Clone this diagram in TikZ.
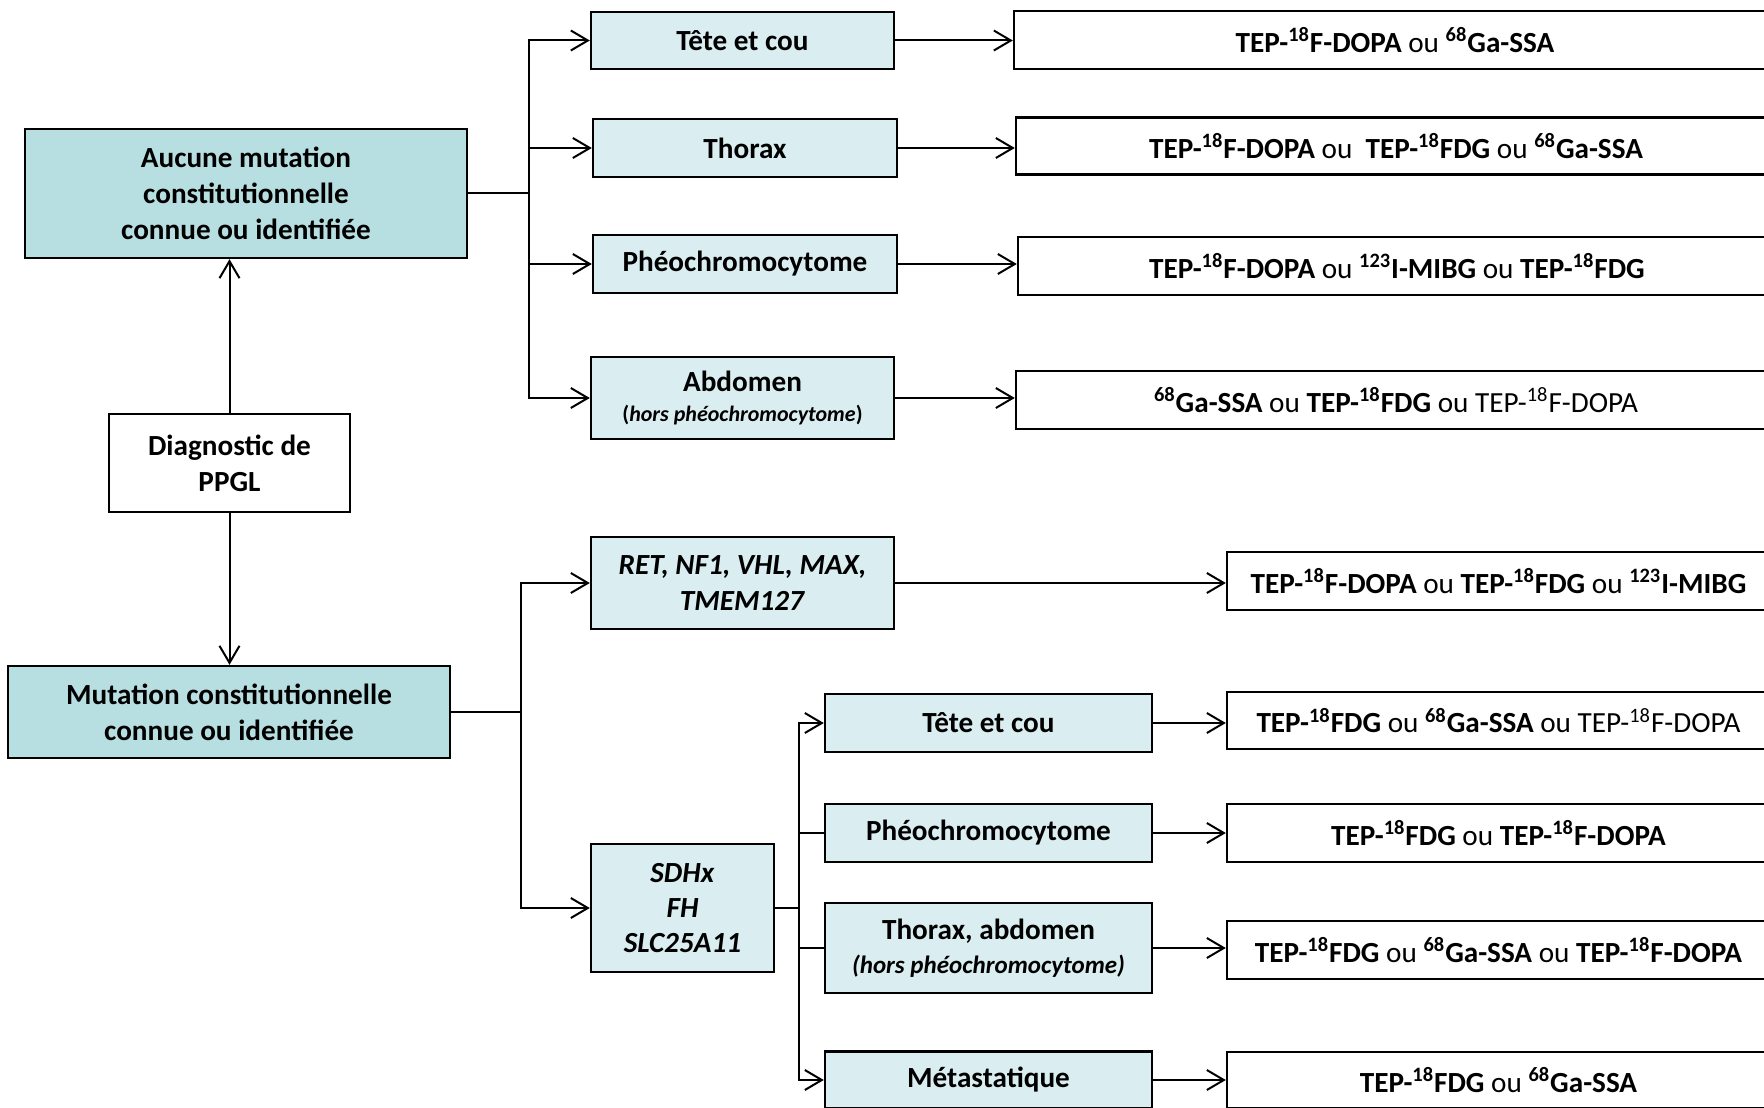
\documentclass[tikz,border=0pt]{standalone}
\usepackage{fontspec}
\setmainfont{Carlito}
\usetikzlibrary{arrows.meta}
\definecolor{tealdark}{RGB}{183,222,225}
\definecolor{teallight}{RGB}{218,238,242}
\newcommand{\iso}[1]{\textsuperscript{#1}}
\newcommand{\ou}{\textmd{ou}}

\begin{document}
\begin{tikzpicture}[x=0.5pt,y=-0.5pt,font=\fontsize{14.6}{18}\selectfont\bfseries,
  box/.style={draw,line width=1.2pt,align=center,inner sep=0pt},
  mainbox/.style={box,fill=tealdark},
  sitebox/.style={box,fill=teallight},
  resbox/.style={box,fill=white},
  link/.style={line width=1pt},
  arr/.style={line width=1pt,-{Straight Barb[length=8.5pt,width=10pt]}}]
\useasboundingbox (0,0) rectangle (1764,1107);
\clip (0,0) rectangle (1764,1107);

\node[mainbox,minimum width=221pt,minimum height=64.5pt] (aucune) at (246,193.5) {Aucune mutation\\constitutionnelle\\connue ou identifiée};
\node[resbox,minimum width=120.5pt,minimum height=49pt] (diag) at (229.5,463) {Diagnostic de\\PPGL};
\node[mainbox,minimum width=221pt,minimum height=46pt] (mutation) at (229,712) {Mutation constitutionnelle\\connue ou identifiée};

\node[sitebox,minimum width=151.5pt,minimum height=28.5pt] (tete1) at (742.5,40.5) {Tête et cou};
\node[sitebox,minimum width=152pt,minimum height=29pt] (thorax1) at (745,148) {Thorax};
\node[sitebox,minimum width=152pt,minimum height=29pt] (pheo1) at (745,264) {Phéochromocytome};
\node[sitebox,minimum width=151.5pt,minimum height=41pt] (abdo1) at (742.5,398) {Abdomen\\[-3pt]{\fontsize{11}{15}\selectfont(\textit{hors phéochromocytome})}};

\node[resbox,minimum width=381pt,minimum height=29pt] (res1) at (1395,40) {TEP-\iso{18}F-DOPA \ou{} \iso{68}Ga-SSA};
\node[resbox,minimum width=380pt,minimum height=28.5pt] (res2) at (1396,146) {TEP-\iso{18}F-DOPA \ou{}\ \ TEP-\iso{18}FDG \ou{} \iso{68}Ga-SSA};
\node[resbox,minimum width=379pt,minimum height=29pt] (res3) at (1397,266) {TEP-\iso{18}F-DOPA \ou{} \iso{123}I-MIBG \ou{} TEP-\iso{18}FDG};
\node[resbox,minimum width=380pt,minimum height=29pt] (res4) at (1396,400) {\iso{68}Ga-SSA \ou{} TEP-\iso{18}FDG \ou{} \textmd{TEP-\iso{18}F-DOPA}};

\node[sitebox,minimum width=151.5pt,minimum height=46pt] (ret) at (742.5,583) {\textit{RET, NF1, VHL, MAX,}\\\textit{TMEM127}};
\node[resbox,minimum width=271.5pt,minimum height=29pt] (resret) at (1498.5,581) {TEP-\iso{18}F-DOPA \ou{} TEP-\iso{18}FDG \ou{} \iso{123}I-MIBG};
\node[sitebox,minimum width=91.5pt,minimum height=64pt] (sdh) at (682.5,908) {\textit{SDHx}\\[-0.5pt]\textit{FH}\\[-0.5pt]\textit{SLC25A11}};

\node[sitebox,minimum width=163.5pt,minimum height=29pt] (tete2) at (988.5,723) {Tête et cou};
\node[sitebox,minimum width=163.5pt,minimum height=29pt] (pheo2) at (988.5,833) {Phéochromocytome};
\node[sitebox,minimum width=163.5pt,minimum height=45pt] (thorab) at (988.5,948) {Thorax, abdomen\\[-1pt]{\fontsize{12.5}{16}\selectfont\textit{(hors phéochromocytome)}}};
\node[sitebox,minimum width=163.5pt,minimum height=28.5pt] (meta) at (988.5,1080) {Métastatique};

\node[resbox,minimum width=271.5pt,minimum height=28.5pt] (rtete2) at (1498.5,720.5) {TEP-\iso{18}FDG \ou{} \iso{68}Ga-SSA \ou{} \textmd{TEP-\iso{18}F-DOPA}};
\node[resbox,minimum width=271.5pt,minimum height=29pt] (rpheo2) at (1498.5,833) {TEP-\iso{18}FDG \ou{} TEP-\iso{18}F-DOPA};
\node[resbox,minimum width=271.5pt,minimum height=29pt] (rthor) at (1498.5,950) {TEP-\iso{18}FDG \ou{} \iso{68}Ga-SSA \ou{} TEP-\iso{18}F-DOPA};
\node[resbox,minimum width=271.5pt,minimum height=28pt] (rmeta) at (1498.5,1080) {TEP-\iso{18}FDG \ou{} \iso{68}Ga-SSA};

\coordinate (b1) at (529,193.5);
\coordinate (b2) at (521,712);
\coordinate (b3) at (799,908);

\draw[arr] (diag.north) -- (diag.north |- aucune.south);
\draw[arr] (diag.south) -- (diag.south |- mutation.north);

\draw[link] (aucune.east) -- (b1);
\draw[arr] (b1) |- (tete1.west);
\draw[arr] (b1) |- (thorax1.west);
\draw[arr] (b1) |- (pheo1.west);
\draw[arr] (b1) |- (abdo1.west);

\draw[arr] (tete1.east) -- (tete1.east -| res1.west);
\draw[arr] (thorax1.east) -- (thorax1.east -| res2.west);
\draw[arr] (pheo1.east) -- (pheo1.east -| res3.west);
\draw[arr] (abdo1.east) -- (abdo1.east -| res4.west);

\draw[link] (mutation.east) -- (b2);
\draw[arr] (b2) |- (ret.west);
\draw[arr] (b2) |- (sdh.west);
\draw[arr] (ret.east) -- (ret.east -| resret.west);

\draw[link] (sdh.east) -- (b3);
\draw[arr] (b3) |- (tete2.west);
\draw[link] (b3) |- (pheo2.west);
\draw[link] (b3) |- (thorab.west);
\draw[arr] (b3) |- (meta.west);

\draw[arr] (tete2.east) -- (tete2.east -| rtete2.west);
\draw[arr] (pheo2.east) -- (pheo2.east -| rpheo2.west);
\draw[arr] (thorab.east) -- (thorab.east -| rthor.west);
\draw[arr] (meta.east) -- (meta.east -| rmeta.west);
\end{tikzpicture}
\end{document}
